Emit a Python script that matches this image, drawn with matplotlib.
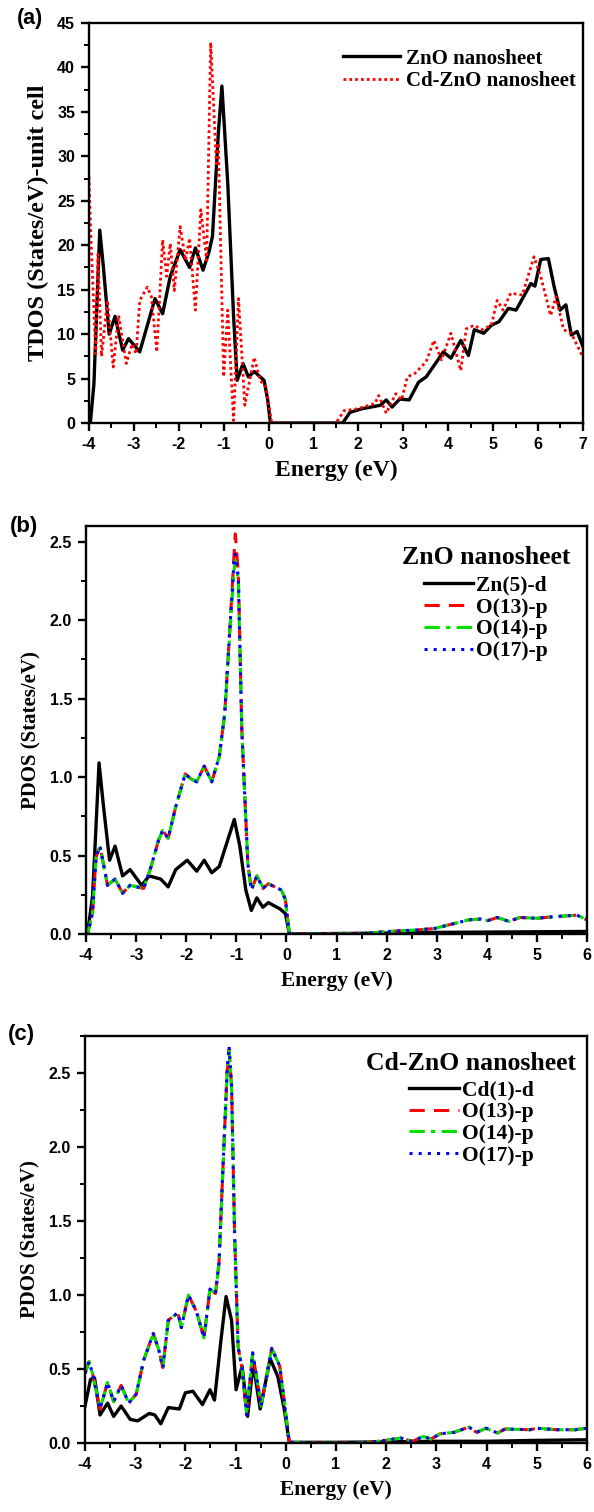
import matplotlib
matplotlib.use("Agg")
import matplotlib.pyplot as plt
from matplotlib.ticker import MultipleLocator, FormatStrFormatter

plt.rcParams["axes.unicode_minus"] = False

# ---- panel (a) TDOS ----
zno_e = [-4.0, -3.97, -3.89, -3.76, -3.68, -3.55, -3.42, -3.25, -3.12, -2.87, -2.53, -2.36, -2.19, -1.97,
         -1.76, -1.63, -1.46, -1.33, -1.25, -1.12, -1.04, -0.91, -0.78, -0.70, -0.57, -0.45, -0.32, -0.10,
         -0.02, 0.04, 1.0, 1.65, 1.81, 2.07, 2.49, 2.62, 2.75, 2.92, 3.13, 3.34, 3.51, 3.77, 3.89, 4.06,
         4.28, 4.45, 4.58, 4.79, 4.96, 5.13, 5.34, 5.51, 5.72, 5.84, 5.93, 6.06, 6.23, 6.36, 6.49, 6.62,
         6.74, 6.87, 7.0]
zno_tdos = [0, 0, 4.4, 21.7, 17.6, 10, 12, 8.2, 9.5, 8.0, 14, 12.3, 16.5, 19.5,
            17.5, 19.7, 17.2, 19.2, 21, 32.6, 37.9, 27, 12, 4.8, 6.7, 5.2, 5.8, 4.8,
            2.6, 0, 0, 0, 1.2, 1.6, 2.0, 2.6, 1.8, 2.7, 2.6, 4.6, 5.2, 7.1, 8.0, 7.3,
            9.3, 7.6, 10.5, 10.1, 11.0, 11.4, 12.9, 12.7, 14.6, 15.7, 15.4, 18.4, 18.5, 15.3, 12.7, 13.3,
            9.9, 10.3, 8.6]

cd_e = [-4.0, -3.96, -3.85, -3.80, -3.72, -3.59, -3.46, -3.34, -3.17, -3.04, -2.95, -2.87, -2.70, -2.61,
        -2.49, -2.36, -2.27, -2.19, -2.10, -1.97, -1.85, -1.76, -1.63, -1.51, -1.38, -1.29, -1.16, -1.12,
        -1.0, -0.91, -0.78, -0.67, -0.53, -0.32, -0.19, -0.06, 0.07, 1.0, 1.5, 1.68, 1.98, 2.37, 2.45,
        2.62, 2.83, 2.96, 3.09, 3.26, 3.51, 3.68, 3.85, 4.06, 4.28, 4.40, 4.58, 4.75, 4.96, 5.09, 5.22,
        5.39, 5.65, 5.91, 6.06, 6.28, 6.40, 6.57, 6.74, 7.0]
cd_tdos = [27.7, 21.3, 7.8, 19, 7.5, 13.8, 6.3, 12.1, 6.7, 8.9, 7.8, 13.8, 15.3, 14.2,
           8.0, 20.6, 16.5, 20.2, 14.9, 22.1, 18.3, 20.8, 12.7, 24.0, 18.3, 42.8, 28.9, 31.5,
           5.2, 12.7, 0.3, 14, 2.0, 7.4, 4.8, 4.1, 0, 0, 0, 1.4, 1.6, 2.2, 3.1,
           1.1, 3.3, 2.6, 5.2, 5.6, 6.9, 9.3, 7.1, 10.1, 5.9, 10.6, 11.0, 10.5, 11.0, 13.8, 12.7,
           14.6, 14.4, 18.7, 16.5, 12.1, 14.2, 10.5, 10.1, 7.4]

# ---- panel (b) PDOS ZnO ----
b_e_d = [-4.0, -3.97, -3.87, -3.83, -3.74, -3.65, -3.53, -3.42, -3.27, -3.12, -2.89, -2.74, -2.51, -2.36,
         -2.21, -1.98, -1.79, -1.64, -1.49, -1.34, -1.19, -1.04, -0.93, -0.81, -0.70, -0.59, -0.47, -0.36,
         -0.13, -0.02, 0.06, 1.0, 2.0, 3.0, 4.0, 5.0, 6.0]
b_zn5_d = [0, 0, 0.24, 0.49, 1.09, 0.81, 0.47, 0.56, 0.37, 0.41, 0.31, 0.37, 0.35, 0.30,
           0.41, 0.47, 0.40, 0.47, 0.39, 0.43, 0.58, 0.73, 0.56, 0.28, 0.15, 0.23, 0.17, 0.20,
           0.16, 0.13, 0.0, 0.003, 0.006, 0.01, 0.012, 0.014, 0.016]

b_e_o = [-4.0, -3.97, -3.87, -3.80, -3.72, -3.57, -3.42, -3.27, -3.12, -2.85, -2.70, -2.55, -2.47, -2.36,
         -2.21, -2.02, -1.91, -1.79, -1.64, -1.49, -1.34, -1.23, -1.11, -1.04, -1.02, -0.96, -0.89, -0.77,
         -0.70, -0.59, -0.47, -0.36, -0.10, -0.02, 0.06, 0.5, 1.0, 1.5, 1.98, 2.59, 2.96, 3.27, 3.64,
         3.87, 4.02, 4.21, 4.44, 4.66, 5.0, 5.34, 5.80, 6.0]
b_o13_p = [0, 0, 0.13, 0.49, 0.56, 0.31, 0.35, 0.26, 0.31, 0.29, 0.43, 0.60, 0.66, 0.61,
           0.81, 1.02, 0.99, 0.97, 1.07, 0.97, 1.13, 1.41, 2.05, 2.45, 2.55, 2.30, 1.30, 0.45,
           0.28, 0.37, 0.29, 0.32, 0.28, 0.22, 0, 0, 0, 0, 0.015, 0.025, 0.035, 0.06, 0.09,
           0.095, 0.085, 0.105, 0.08, 0.105, 0.10, 0.11, 0.12, 0.09]
b_o14_p = [0, 0, 0.13, 0.49, 0.55, 0.31, 0.35, 0.26, 0.31, 0.29, 0.43, 0.60, 0.66, 0.61,
           0.81, 1.02, 0.99, 0.97, 1.07, 0.97, 1.13, 1.40, 2.02, 2.33, 2.38, 2.25, 1.30, 0.45,
           0.28, 0.37, 0.30, 0.32, 0.28, 0.22, 0, 0, 0, 0, 0.015, 0.025, 0.035, 0.06, 0.09,
           0.095, 0.085, 0.105, 0.08, 0.105, 0.10, 0.11, 0.12, 0.09]
b_o17_p = [0, 0, 0.13, 0.49, 0.56, 0.31, 0.35, 0.26, 0.31, 0.29, 0.43, 0.60, 0.66, 0.61,
           0.81, 1.02, 0.99, 0.97, 1.07, 0.97, 1.13, 1.41, 2.04, 2.40, 2.42, 2.28, 1.30, 0.45,
           0.28, 0.37, 0.29, 0.32, 0.28, 0.22, 0, 0, 0, 0, 0.015, 0.025, 0.035, 0.06, 0.09,
           0.095, 0.085, 0.105, 0.08, 0.105, 0.10, 0.11, 0.12, 0.09]

# ---- panel (c) PDOS Cd-ZnO ----
c_e_d = [-4.0, -3.89, -3.81, -3.70, -3.55, -3.43, -3.28, -3.10, -2.95, -2.72, -2.61, -2.49, -2.34, -2.12,
         -2.00, -1.85, -1.66, -1.51, -1.42, -1.29, -1.19, -1.08, -0.99, -0.87, -0.76, -0.65, -0.51, -0.31,
         -0.16, -0.03, 0.07, 1.0, 2.0, 3.0, 4.0, 5.0, 6.0]
c_cd1_d = [0.25, 0.43, 0.44, 0.19, 0.27, 0.18, 0.25, 0.16, 0.15, 0.20, 0.19, 0.13, 0.24, 0.23,
           0.34, 0.35, 0.26, 0.36, 0.29, 0.70, 0.99, 0.83, 0.36, 0.52, 0.18, 0.54, 0.23, 0.57,
           0.45, 0.23, 0.005, 0.005, 0.008, 0.012, 0.012, 0.018, 0.022]

c_e_o = [-4.0, -3.92, -3.85, -3.70, -3.55, -3.43, -3.28, -3.13, -2.98, -2.83, -2.64, -2.53, -2.45, -2.34,
         -2.15, -2.08, -1.94, -1.78, -1.63, -1.51, -1.40, -1.33, -1.25, -1.17, -1.13, -1.08, -1.02, -0.95,
         -0.87, -0.78, -0.66, -0.49, -0.28, -0.12, 0.0, 0.07, 0.5, 1.0, 1.5, 1.99, 2.29, 2.52, 2.74,
         2.89, 3.08, 3.35, 3.65, 3.80, 3.99, 4.22, 4.37, 4.86, 5.01, 5.39, 5.76, 6.0]
c_o13_p = [0.47, 0.55, 0.47, 0.23, 0.41, 0.28, 0.39, 0.27, 0.33, 0.56, 0.74, 0.63, 0.51, 0.83,
           0.88, 0.78, 1.0, 0.89, 0.71, 1.04, 1.01, 1.22, 1.87, 2.50, 2.66, 2.41, 1.42, 0.65,
           0.50, 0.19, 0.61, 0.25, 0.64, 0.52, 0.20, 0.005, 0, 0, 0, 0.018, 0.034, 0.011, 0.045,
           0.027, 0.063, 0.072, 0.108, 0.072, 0.10, 0.068, 0.095, 0.09, 0.10, 0.09, 0.09, 0.10]
c_o14_p = [0.47, 0.55, 0.47, 0.23, 0.41, 0.28, 0.39, 0.27, 0.33, 0.56, 0.74, 0.63, 0.51, 0.83,
           0.88, 0.78, 1.0, 0.89, 0.71, 1.04, 1.01, 1.22, 1.86, 2.48, 2.65, 2.40, 1.42, 0.65,
           0.50, 0.19, 0.61, 0.25, 0.64, 0.52, 0.20, 0.005, 0, 0, 0, 0.018, 0.034, 0.011, 0.045,
           0.027, 0.063, 0.072, 0.108, 0.072, 0.10, 0.068, 0.095, 0.09, 0.10, 0.09, 0.09, 0.10]
c_o17_p = [0.47, 0.55, 0.47, 0.23, 0.41, 0.28, 0.39, 0.27, 0.33, 0.56, 0.74, 0.63, 0.51, 0.83,
           0.88, 0.78, 1.0, 0.89, 0.71, 1.04, 1.01, 1.22, 1.88, 2.51, 2.68, 2.42, 1.42, 0.65,
           0.50, 0.19, 0.61, 0.25, 0.64, 0.52, 0.20, 0.005, 0, 0, 0, 0.018, 0.034, 0.011, 0.045,
           0.027, 0.063, 0.072, 0.108, 0.072, 0.10, 0.068, 0.095, 0.09, 0.10, 0.09, 0.09, 0.10]

serif = "Liberation Serif"
sans = "Liberation Sans"

fig = plt.figure(figsize=(5.94, 15.12), dpi=100)


def style_axes(ax, xmin, xmax, ymin, ymax, ymaj, ymin_step, yfmt, ylabel, xlab_size, ylab_size):
    ax.set_xlim(xmin, xmax)
    ax.set_ylim(ymin, ymax)
    ax.xaxis.set_major_locator(MultipleLocator(1))
    ax.xaxis.set_minor_locator(MultipleLocator(0.5))
    ax.yaxis.set_major_locator(MultipleLocator(ymaj))
    ax.yaxis.set_minor_locator(MultipleLocator(ymin_step))
    ax.yaxis.set_major_formatter(FormatStrFormatter(yfmt))
    ax.tick_params(which="major", direction="out", length=6, width=1.7, top=False, right=False, pad=4)
    ax.tick_params(which="minor", direction="out", length=3.5, width=1.4, top=False, right=False)
    for sp in ax.spines.values():
        sp.set_linewidth(1.7)
    for lab in ax.get_xticklabels() + ax.get_yticklabels():
        lab.set_fontfamily(sans)
        lab.set_fontweight("bold")
        lab.set_fontsize(11.5)
    ax.set_xlabel("Energy (eV)", fontfamily=serif, fontweight="bold", fontsize=xlab_size, labelpad=6)
    ax.set_ylabel(ylabel, fontfamily=serif, fontweight="bold", fontsize=ylab_size, labelpad=6)


leg_prop = {"family": serif, "weight": "bold", "size": 15.5}
title_prop = {"family": serif, "weight": "bold", "size": 18.5}

# (a)
ax1 = fig.add_axes([0.1498, 0.7202, 0.8316, 0.2646])
ax1.plot(zno_e, zno_tdos, color="black", lw=2.4, label="ZnO nanosheet")
ax1.plot(cd_e, cd_tdos, color="red", lw=2.0, ls=(0, (1, 1.1)), label="Cd-ZnO nanosheet")
style_axes(ax1, -4, 7, 0, 45, 5, 2.5, "%d", "TDOS (States/eV)-unit cell", 17, 17.5)
ax1.legend(loc="upper left", bbox_to_anchor=(0.494, 0.962), frameon=False, borderpad=0,
           prop={"family": serif, "weight": "bold", "size": 15},
           handlelength=2.7, handletextpad=0.3, labelspacing=0.12)

# (b)
ax2 = fig.add_axes([0.1448, 0.3823, 0.8434, 0.2698])
ax2.plot(b_e_d, b_zn5_d, color="black", lw=2.4, label="Zn(5)-d")
ax2.plot(b_e_o, b_o13_p, color="red", lw=2.2, ls=(0, (5, 3)), label="O(13)-p")
ax2.plot(b_e_o, b_o14_p, color="#00e000", lw=2.2, ls=(0, (5, 2, 1.5, 2)), label="O(14)-p")
ax2.plot(b_e_o, b_o17_p, color="blue", lw=2.2, ls=(0, (1, 2)), label="O(17)-p")
style_axes(ax2, -4, 6, 0, 2.6, 0.5, 0.25, "%.1f", "PDOS (States/eV)", 15.5, 15)
leg2 = ax2.legend(loc="upper center", bbox_to_anchor=(0.798, 0.978), frameon=False, borderpad=0,
                  title="ZnO nanosheet", prop=leg_prop, title_fontproperties=title_prop,
                  handlelength=2.3, handletextpad=0.15, labelspacing=0.08)
leg2._legend_box.sep = 5

# (c)
ax3 = fig.add_axes([0.1431, 0.0456, 0.845, 0.2692])
ax3.plot(c_e_d, c_cd1_d, color="black", lw=2.4, label="Cd(1)-d")
ax3.plot(c_e_o, c_o13_p, color="red", lw=2.2, ls=(0, (5, 3)), label="O(13)-p")
ax3.plot(c_e_o, c_o14_p, color="#00e000", lw=2.2, ls=(0, (5, 2, 1.5, 2)), label="O(14)-p")
ax3.plot(c_e_o, c_o17_p, color="blue", lw=2.2, ls=(0, (1, 2)), label="O(17)-p")
style_axes(ax3, -4, 6, 0, 2.75, 0.5, 0.25, "%.1f", "PDOS (States/eV)", 15.5, 15)
leg3 = ax3.legend(loc="upper center", bbox_to_anchor=(0.77, 0.988), frameon=False, borderpad=0,
                  title="Cd-ZnO nanosheet", prop=leg_prop, title_fontproperties=title_prop,
                  handlelength=2.3, handletextpad=0.15, labelspacing=0.08)
leg3._legend_box.sep = 4

# panel letters
fig.text(0.028, 0.9945, "(a)", fontfamily=sans, fontweight="bold", fontsize=15.5, va="top")
fig.text(0.016, 0.6585, "(b)", fontfamily=sans, fontweight="bold", fontsize=16, va="top")
fig.text(0.014, 0.3225, "(c)", fontfamily=sans, fontweight="bold", fontsize=16, va="top")

fig.savefig("out.png", dpi=100)
